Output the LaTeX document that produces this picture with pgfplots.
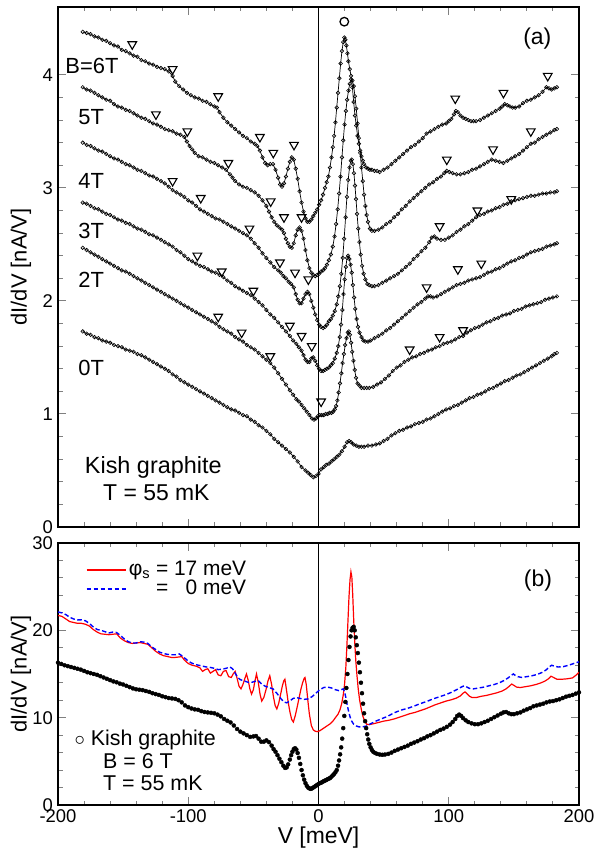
\documentclass[border=0pt]{standalone}
\usepackage{fontspec}
\setmainfont{Liberation Sans}
\usepackage{pgfplots}
\pgfplotsset{compat=1.18}

\pgfplotsset{
  panel/.style={
    scale only axis, width=521bp,
    xmin=-200, xmax=200,
    xtick={-200,-100,0,100,200}, minor x tick num=4,
    tick align=inside, major tick length=8bp, minor tick length=4.5bp,
    axis line style={line width=1.3bp},
    every tick/.append style={line width=1bp},
    /pgf/number format/assume math mode=true,
    ticklabel style={font=\fontsize{18.5}{18.5}\selectfont},
    yticklabel style={inner sep=0pt, xshift=-5bp},
    xticklabel style={inner sep=0pt, yshift=-4bp},
    ylabel={dI/dV [nA/V]},
    every axis y label/.style={at={(axis description cs:-0.071,0.5)},rotate=90,anchor=center,
      font=\fontsize{22}{22}\selectfont},
  },
  dat/.style={black, line width=0.7bp, mark=o, mark size=1.8bp, mark options={line width=0.6bp}},
  tri/.style={only marks, mark=triangle, mark size=5bp, mark options={rotate=180, line width=1.1bp, black}},
  zero/.style={black, line width=0.7bp, forget plot},
  calc17/.style={draw=red, line width=1.2bp},
  calc0/.style={draw=blue, line width=1.4bp, dash pattern=on 4.5bp off 2.5bp},
}

\begin{document}
\begin{tikzpicture}

% ---------- (a) ----------
\begin{axis}[panel, at={(0,278bp)}, anchor=south west,
    height=520bp, ymin=0, ymax=4.6,
    ytick={0,1,2,3,4}, minor y tick num=4,
    xticklabels={}]
\addplot[zero] coordinates {(0,0) (0,4.6)};

% B = 6 T
\addplot[dat] coordinates {
(-181,4.38) (-178,4.37) (-175,4.36) (-172,4.34) (-169,4.33) (-166,4.31) (-163,4.30) (-160,4.28) (-157,4.26) (-154,4.25)
(-151,4.22) (-148,4.21) (-145,4.19) (-142,4.17) (-139,4.16) (-136,4.13) (-133,4.12) (-130,4.10) (-127,4.09) (-124,4.07)
(-121,4.06) (-118,4.05) (-115,4.03) (-112,3.99) (-110,3.94) (-107,3.90) (-104,3.87) (-101,3.84) (-98,3.82) (-95,3.80)
(-92,3.79) (-89,3.77) (-86,3.76) (-83,3.74) (-80,3.72) (-78,3.71) (-76,3.67) (-73,3.62) (-70,3.58) (-67,3.55)
(-64,3.52) (-61,3.49) (-58,3.46) (-55,3.44) (-52,3.41) (-49,3.39) (-47,3.37) (-45,3.33) (-43,3.27) (-41,3.22)
(-39,3.20) (-37,3.21) (-35,3.21) (-33,3.16) (-31,3.09) (-29.5,3.03) (-28,3.01) (-26.5,3.04) (-25,3.10) (-23.5,3.17)
(-22,3.23) (-20.5,3.27) (-19,3.25) (-17.5,3.17) (-16,3.08) (-14.5,2.97) (-13,2.87) (-11.5,2.79) (-10,2.73) (-8.5,2.70)
(-7,2.70) (-5.5,2.72) (-4,2.75) (-2.5,2.78) (-1,2.81) (0.5,2.85) (2,2.89) (3.5,2.94) (5,3.00) (6.3,3.05)
(7.6,3.10) (8.8,3.18) (10,3.27) (11,3.36) (12,3.46) (13,3.58) (14,3.71) (15,3.84) (16,3.97) (17,4.10)
(18,4.21) (19,4.29) (19.8,4.33) (20.6,4.31) (21.4,4.26) (22.2,4.19) (23,4.12) (24,4.05) (25,3.99) (26,3.89)
(27,3.76) (28,3.64) (29,3.55) (30,3.46) (31,3.39) (32,3.33) (33,3.28) (34,3.24) (35,3.21) (36.5,3.18)
(38,3.17) (39.5,3.16) (41,3.16) (43,3.15) (45,3.15) (47,3.14) (50,3.16) (53,3.18) (56,3.21) (59,3.24)
(62,3.27) (65,3.30) (68,3.33) (71,3.36) (74,3.38) (77,3.41) (80,3.44) (83,3.48) (86,3.50) (89,3.52)
(92,3.54) (95,3.56) (98,3.57) (100,3.59) (102,3.61) (104,3.65) (105.5,3.68) (107,3.67) (109,3.64) (111,3.62)
(113,3.61) (115,3.60) (117,3.59) (119,3.59) (121,3.59) (124,3.60) (127,3.62) (130,3.64) (133,3.66) (136,3.68)
(139,3.70) (141,3.72) (143,3.74) (145,3.73) (147,3.72) (149,3.71) (151,3.71) (154,3.72) (157,3.75) (160,3.77)
(163,3.78) (166,3.80) (169,3.82) (172,3.85) (175,3.89) (177,3.88) (179,3.87) (181,3.88) (183,3.89)
};
% 5 T
\addplot[dat] coordinates {
(-181,3.89) (-178,3.87) (-175,3.86) (-172,3.84) (-169,3.82) (-166,3.80) (-163,3.78) (-160,3.77) (-157,3.74) (-154,3.72)
(-151,3.71) (-148,3.69) (-145,3.68) (-142,3.66) (-139,3.64) (-136,3.62) (-133,3.61) (-130,3.59) (-127,3.57) (-124,3.56)
(-121,3.54) (-118,3.52) (-115,3.51) (-112,3.50) (-109,3.48) (-106,3.47) (-103,3.45) (-101,3.41) (-99,3.37) (-97,3.34)
(-95,3.31) (-92,3.28) (-89,3.27) (-86,3.25) (-83,3.23) (-80,3.22) (-77,3.20) (-74,3.18) (-71,3.16) (-68,3.12)
(-66,3.09) (-64,3.06) (-61,3.03) (-58,3.01) (-55,3.00) (-52,2.98) (-49,2.96) (-46,2.93) (-43,2.89) (-40,2.84)
(-38,2.79) (-36,2.74) (-34,2.70) (-32,2.67) (-30,2.65) (-28,2.63) (-26.5,2.60) (-25,2.55) (-23.5,2.51) (-22,2.48)
(-20.5,2.47) (-19,2.51) (-17.5,2.58) (-16,2.63) (-14.5,2.65) (-13,2.62) (-11.5,2.55) (-10,2.45) (-8.5,2.36) (-7,2.29)
(-5.5,2.25) (-4,2.23) (-2.5,2.22) (-1,2.23) (0.5,2.24) (2,2.26) (3.5,2.27) (5,2.29) (6.5,2.32) (8,2.36)
(9.5,2.41) (11,2.48) (12.3,2.57) (13.5,2.68) (14.7,2.81) (15.8,2.95) (16.9,3.10) (18,3.27) (19,3.42) (20,3.56)
(21,3.68) (22,3.78) (23,3.86) (24,3.92) (25,3.96) (26,3.95) (27,3.90) (28,3.81) (29,3.70) (30,3.57)
(31,3.44) (32,3.31) (33,3.18) (34,3.06) (35,2.94) (36,2.84) (37,2.76) (38,2.70) (39.5,2.64) (41,2.62)
(43,2.62) (46,2.63) (49,2.65) (52,2.68) (55,2.70) (58,2.74) (61,2.77) (64,2.81) (67,2.84) (70,2.88)
(73,2.91) (76,2.94) (79,2.97) (82,3.00) (85,3.03) (88,3.05) (91,3.08) (94,3.10) (96.5,3.13) (98.5,3.15)
(100.5,3.14) (103,3.13) (106,3.12) (109,3.12) (112,3.13) (115,3.14) (118,3.16) (121,3.17) (124,3.19) (127,3.21)
(130,3.23) (133,3.25) (136,3.24) (139,3.23) (142,3.22) (145,3.24) (148,3.26) (151,3.28) (154,3.30) (157,3.33)
(160,3.36) (163,3.39) (166,3.40) (169,3.43) (172,3.45) (175,3.47) (178,3.49) (181,3.51) (183,3.52)
};
% 4 T
\addplot[dat] coordinates {
(-181,3.40) (-178,3.38) (-175,3.37) (-172,3.35) (-169,3.33) (-166,3.32) (-163,3.30) (-160,3.28) (-157,3.26) (-154,3.25)
(-151,3.23) (-148,3.21) (-145,3.20) (-142,3.18) (-139,3.16) (-136,3.15) (-133,3.13) (-130,3.11) (-127,3.10) (-124,3.08)
(-121,3.06) (-118,3.04) (-115,3.01) (-112,2.98) (-109,2.96) (-106,2.94) (-103,2.92) (-100,2.89) (-97,2.87) (-94,2.84)
(-91,2.81) (-88,2.79) (-85,2.77) (-82,2.75) (-79,2.73) (-76,2.72) (-73,2.70) (-70,2.68) (-67,2.66) (-64,2.64)
(-61,2.62) (-58,2.60) (-55,2.58) (-52,2.55) (-49,2.51) (-46,2.47) (-43,2.42) (-40,2.38) (-37,2.34) (-34,2.30)
(-31,2.27) (-29,2.25) (-27,2.22) (-25,2.20) (-23,2.17) (-21,2.15) (-19,2.12) (-17.5,2.06) (-16,2.01) (-14.5,1.98)
(-13,1.98) (-11.5,2.02) (-10,2.06) (-8.5,2.08) (-7,2.06) (-5.5,2.00) (-4,1.94) (-2.5,1.88) (-1,1.83) (0.5,1.79)
(2,1.77) (3.5,1.76) (5,1.77) (6.5,1.79) (8,1.82) (9.5,1.84) (11,1.87) (12.5,1.91) (14,1.97) (15.2,2.04)
(16.4,2.13) (17.5,2.24) (18.6,2.38) (19.7,2.55) (20.8,2.74) (21.8,2.92) (22.8,3.07) (23.8,3.18) (24.8,3.24) (25.6,3.25)
(26.4,3.21) (27.2,3.13) (28,3.02) (28.8,2.90) (29.6,2.77) (30.5,2.64) (31.4,2.52) (32.4,2.41) (33.5,2.31) (34.7,2.24)
(36,2.19) (37.5,2.15) (39,2.14) (41,2.13) (43,2.13) (46,2.14) (49,2.16) (52,2.18) (55,2.20) (58,2.22)
(61,2.24) (64,2.27) (67,2.30) (70,2.33) (73,2.37) (76,2.40) (79,2.44) (82,2.47) (85,2.52) (87,2.56)
(89,2.57) (91,2.55) (94,2.54) (97,2.54) (100,2.56) (103,2.58) (106,2.61) (109,2.63) (112,2.66) (115,2.68)
(118,2.71) (121,2.74) (124,2.76) (127,2.77) (130,2.79) (133,2.80) (136,2.82) (139,2.83) (142,2.85) (145,2.86)
(148,2.88) (151,2.89) (154,2.90) (157,2.91) (160,2.92) (163,2.93) (166,2.93) (169,2.94) (172,2.95) (175,2.95)
(178,2.96) (181,2.96) (183,2.97)
};
% 3 T
\addplot[dat] coordinates {
(-181,2.87) (-178,2.86) (-175,2.84) (-172,2.82) (-169,2.81) (-166,2.79) (-163,2.77) (-160,2.76) (-157,2.74) (-154,2.72)
(-151,2.71) (-148,2.69) (-145,2.68) (-142,2.66) (-139,2.64) (-136,2.63) (-133,2.61) (-130,2.59) (-127,2.58) (-124,2.56)
(-121,2.54) (-118,2.52) (-115,2.50) (-112,2.48) (-109,2.45) (-106,2.43) (-103,2.40) (-100,2.37) (-97,2.35) (-94,2.33)
(-91,2.31) (-88,2.30) (-85,2.28) (-82,2.26) (-79,2.25) (-76,2.23) (-73,2.21) (-70,2.18) (-67,2.16) (-64,2.13)
(-61,2.11) (-58,2.09) (-55,2.07) (-52,2.05) (-49,2.02) (-46,1.99) (-43,1.96) (-40,1.92) (-37,1.88) (-34,1.85)
(-31,1.81) (-28,1.77) (-25,1.73) (-22,1.69) (-19.5,1.65) (-17,1.62) (-15,1.59) (-13,1.56) (-11.5,1.52) (-10,1.48)
(-8.5,1.46) (-7,1.46) (-5.5,1.49) (-4,1.50) (-2.5,1.47) (-1,1.43) (0.5,1.40) (2,1.38) (3.5,1.38) (5,1.39)
(6.5,1.40) (8,1.41) (9.5,1.43) (11,1.45) (12.5,1.49) (14,1.54) (15.2,1.60) (16.3,1.68) (17.3,1.79) (18.3,1.92)
(19.2,2.06) (20.1,2.19) (21,2.30) (21.9,2.38) (22.8,2.40) (23.7,2.37) (24.6,2.32) (25.5,2.25) (26.4,2.14) (27.3,2.03)
(28.2,1.93) (29.2,1.84) (30.3,1.77) (31.5,1.72) (33,1.68) (34.5,1.65) (36,1.64) (38,1.64) (40,1.65) (43,1.67)
(46,1.69) (49,1.71) (52,1.74) (55,1.76) (58,1.79) (61,1.82) (64,1.85) (67,1.88) (70,1.91) (73,1.94)
(76,1.97) (79,1.99) (82,2.02) (84,2.04) (86,2.04) (88,2.03) (91,2.04) (94,2.06) (97,2.08) (100,2.10)
(103,2.12) (106,2.14) (109,2.15) (112,2.16) (115,2.18) (118,2.19) (121,2.20) (124,2.21) (127,2.23) (130,2.25)
(133,2.26) (136,2.28) (139,2.29) (142,2.31) (145,2.33) (148,2.35) (151,2.36) (154,2.38) (157,2.39) (160,2.41)
(163,2.43) (166,2.44) (169,2.45) (172,2.46) (175,2.48) (178,2.49) (181,2.50) (183,2.51)
};
% 2 T
\addplot[dat] coordinates {
(-181,2.47) (-178,2.45) (-175,2.43) (-172,2.41) (-169,2.39) (-166,2.37) (-163,2.35) (-160,2.33) (-157,2.31) (-154,2.29)
(-151,2.27) (-148,2.26) (-145,2.24) (-142,2.22) (-139,2.20) (-136,2.18) (-133,2.16) (-130,2.14) (-127,2.12) (-124,2.10)
(-121,2.08) (-118,2.06) (-115,2.04) (-112,2.02) (-109,2.00) (-106,1.98) (-103,1.96) (-100,1.94) (-97,1.92) (-94,1.90)
(-91,1.88) (-88,1.86) (-85,1.84) (-82,1.82) (-79,1.80) (-76,1.77) (-73,1.75) (-70,1.73) (-67,1.71) (-64,1.68)
(-61,1.66) (-58,1.64) (-55,1.61) (-52,1.59) (-49,1.57) (-46,1.54) (-43,1.51) (-40,1.48) (-37,1.45) (-34,1.41)
(-31,1.36) (-28,1.31) (-25,1.26) (-22,1.21) (-19.5,1.17) (-17,1.13) (-15,1.11) (-13,1.08) (-11,1.05) (-9,1.02)
(-7,0.99) (-5,0.96) (-3.5,0.95) (-2,0.96) (-0.5,0.98) (1,0.99) (2.5,0.99) (4,0.99) (5.5,1.00) (7,1.00)
(8.5,1.01) (10,1.01) (11.3,1.02) (12.5,1.04) (13.5,1.07) (14.5,1.12) (15.5,1.19) (16.5,1.27) (17.5,1.36) (18.5,1.45)
(19.5,1.53) (20.5,1.61) (21.5,1.67) (22.5,1.72) (23.3,1.73) (24.1,1.70) (25,1.63) (25.9,1.55) (26.8,1.47) (27.8,1.39)
(28.8,1.32) (30,1.27) (31.5,1.25) (33,1.23) (35,1.23) (37,1.23) (39,1.23) (42,1.24) (45,1.26) (48,1.28)
(51,1.31) (54,1.34) (57,1.38) (60,1.41) (63,1.43) (66,1.46) (69,1.48) (72,1.50) (75,1.51) (78,1.53)
(81,1.54) (84,1.56) (87,1.57) (90,1.59) (93,1.60) (96,1.62) (99,1.63) (102,1.64) (105,1.66) (108,1.68)
(111,1.69) (114,1.72) (117,1.74) (120,1.76) (123,1.77) (126,1.79) (129,1.81) (132,1.82) (135,1.84) (138,1.85)
(141,1.87) (144,1.88) (147,1.89) (150,1.91) (153,1.92) (156,1.93) (159,1.95) (162,1.96) (165,1.97) (168,1.98)
(171,1.99) (174,2.01) (177,2.02) (180,2.03) (183,2.04)
};
% 0 T
\addplot[dat] coordinates {
(-181,1.73) (-178,1.71) (-175,1.70) (-172,1.68) (-169,1.67) (-166,1.65) (-163,1.64) (-160,1.63) (-157,1.61) (-154,1.60)
(-151,1.59) (-148,1.57) (-145,1.56) (-142,1.55) (-139,1.53) (-136,1.52) (-133,1.50) (-130,1.48) (-127,1.46) (-124,1.44)
(-121,1.42) (-118,1.40) (-115,1.38) (-112,1.35) (-109,1.33) (-106,1.30) (-103,1.28) (-100,1.26) (-97,1.24) (-94,1.22)
(-91,1.20) (-88,1.18) (-85,1.16) (-82,1.14) (-79,1.12) (-76,1.10) (-73,1.08) (-70,1.06) (-67,1.04) (-64,1.03)
(-61,1.01) (-58,0.99) (-55,0.98) (-52,0.95) (-49,0.93) (-46,0.90) (-43,0.88) (-40,0.85) (-37,0.82) (-34,0.78)
(-31,0.75) (-28,0.72) (-25,0.69) (-22,0.66) (-19,0.62) (-16,0.58) (-13,0.53) (-10,0.50) (-8,0.48) (-6,0.46)
(-4,0.44) (-2,0.45) (0,0.47) (2,0.51) (4,0.53) (6,0.55) (8,0.56) (10,0.58) (12,0.60) (14,0.62)
(16,0.64) (18,0.67) (20,0.71) (22,0.75) (23.5,0.76) (25,0.75) (27,0.73) (29,0.72) (31,0.71) (33,0.71)
(35,0.71) (38,0.72) (41,0.72) (44,0.73) (47,0.74) (50,0.76) (53,0.78) (56,0.81) (59,0.83) (62,0.85)
(65,0.86) (68,0.88) (71,0.89) (74,0.91) (77,0.92) (80,0.93) (83,0.95) (86,0.96) (89,0.98) (92,1.00)
(95,1.02) (98,1.04) (101,1.05) (104,1.07) (107,1.08) (110,1.10) (113,1.12) (116,1.14) (119,1.15) (122,1.17)
(125,1.18) (128,1.20) (131,1.22) (134,1.23) (137,1.25) (140,1.27) (143,1.29) (146,1.30) (149,1.32) (152,1.34)
(155,1.35) (158,1.37) (161,1.39) (164,1.41) (167,1.43) (170,1.45) (173,1.47) (176,1.49) (179,1.51) (181,1.53)
(183,1.54)
};

% structure markers
\addplot[tri] coordinates {
(-143,4.27) (-112,4.05) (-77,3.81) (-45,3.45) (-34.7,3.31) (-18.8,3.38) (105,3.79) (142,3.84) (176,3.99)
(-124.8,3.65) (-100.7,3.50) (-69.2,3.22) (-36.7,2.88) (-26.5,2.74) (-13,2.74) (98.5,3.25) (134,3.34) (163,3.50)
(-112,3.06) (-90.4,2.91) (-53,2.64) (-29.6,2.34) (-18,2.25) (-7.8,2.19) (93,2.66) (122,2.80) (148,2.90)
(-93,2.40) (-74.3,2.26) (-50,2.09) (-22,1.78) (-13,1.69) (-5.2,1.60) (83,2.12) (107,2.28) (125,2.33)
(-77,1.86) (-59,1.72) (-37,1.51) (2,1.11) (70,1.57) (93,1.68) (111,1.74)
};
\addplot[only marks, mark=o, mark size=4.3bp, mark options={line width=1.3bp}] coordinates {(19.8,4.47)};

\node[anchor=west, font=\fontsize{22}{22}\selectfont] at (axis cs:-197,4.08) {B=6T};
\node[anchor=west, font=\fontsize{22}{22}\selectfont] at (axis cs:-187,3.63) {5T};
\node[anchor=west, font=\fontsize{22}{22}\selectfont] at (axis cs:-187,3.06) {4T};
\node[anchor=west, font=\fontsize{22}{22}\selectfont] at (axis cs:-187,2.62) {3T};
\node[anchor=west, font=\fontsize{22}{22}\selectfont] at (axis cs:-187,2.19) {2T};
\node[anchor=west, font=\fontsize{22}{22}\selectfont] at (axis cs:-187,1.41) {0T};
\node[anchor=west, font=\fontsize{23.5}{23.5}\selectfont] at (axis cs:-182,0.53) {Kish graphite};
\node[anchor=west, font=\fontsize{23}{23}\selectfont] at (axis cs:-168,0.30) {T = 55 mK};
\node[font=\fontsize{23}{23}\selectfont] at (axis cs:168,4.32) {(a)};
\end{axis}

% ---------- (b) ----------
\begin{axis}[panel, at={(0,0)}, anchor=south west,
    height=262bp, ymin=0, ymax=30,
    ytick={0,10,20,30}, minor y tick num=4,
    xlabel={V [meV]},
    xlabel style={at={(axis description cs:0.5,-0.126)}, anchor=center, font=\fontsize{23}{23}\selectfont}]
\addplot[zero] coordinates {(0,0) (0,30)};

% calculated, phi_s = 17 meV
\addplot[calc17] coordinates {
(-200,21.7) (-197,21.6) (-194,21.3) (-191,21.0) (-188,20.9) (-185,20.8) (-182,20.8) (-179,20.7) (-176,20.5) (-173,20.1)
(-170,19.8) (-167,19.6) (-164,19.55) (-161,19.5) (-158,19.55) (-155,19.6) (-152,19.1) (-149,18.8) (-146,18.6) (-143,18.5)
(-140,18.55) (-137,18.6) (-134,18.5) (-131,18.4) (-128,18.0) (-125,17.6) (-122,17.3) (-119,17.1) (-116,17.0) (-113,16.9)
(-110,16.9) (-107,16.95) (-105,17.0) (-103,16.6) (-100,16.2) (-97,16.0) (-94,15.9) (-91,15.7) (-89,15.3) (-87,15.5)
(-85,15.6) (-83,15.1) (-81,15.3) (-79,15.5) (-77,14.9) (-75,14.8) (-73,15.3) (-71,15.4) (-69,14.7) (-67,14.6)
(-65.5,15.0) (-64,15.3) (-62.5,14.5) (-61,13.6) (-59.5,13.3) (-58,13.8) (-56.5,14.5) (-55.3,15.0) (-54,14.3) (-52.7,13.3)
(-51.4,12.7) (-50,13.2) (-48.8,14.2) (-47.6,15.0) (-46.2,14.0) (-44.9,12.7) (-43.6,11.9) (-42,12.3) (-40.3,13.2) (-38.8,14.2)
(-37.4,14.8) (-36,13.8) (-34.6,12.4) (-33.3,11.4) (-32,11.0) (-30.6,11.6) (-29.2,12.6) (-27.8,13.6) (-26.7,14.2) (-25.8,14.4)
(-24.6,13.2) (-23.3,11.8) (-22,10.7) (-20.6,9.8) (-19.3,9.5) (-17.9,10.2) (-16.4,11.2) (-15,12.2) (-13.6,13.2) (-12.2,14.0)
(-11,14.5) (-10.4,14.6) (-9.4,13.8) (-8.2,12.0) (-7,10.4) (-5.5,9.1) (-4,8.6) (-2.5,8.45) (-1,8.4) (1,8.5)
(3,8.7) (5,8.9) (7,9.1) (9,9.3) (11,9.6) (13,10.0) (15,10.4) (16.5,10.9) (17.8,11.6) (19,12.6)
(20,13.8) (21,15.8) (21.8,18.2) (22.6,21.0) (23.4,23.8) (24.2,25.8) (24.9,26.7) (25.6,26.1) (26.3,24.0) (27,21.3)
(27.8,18.7) (28.6,16.6) (29.5,14.9) (30.5,13.3) (31.6,12.0) (32.8,11.0) (34,10.2) (35.5,9.6) (37,9.25) (39,9.2)
(42,9.3) (46,9.45) (50,9.6) (54,9.7) (58,9.85) (62,10.05) (66,10.25) (70,10.45) (74,10.6) (78,10.8)
(82,11.0) (86,11.25) (90,11.5) (94,11.7) (98,11.9) (102,12.05) (106,12.25) (109,12.5) (111,12.8) (112.5,12.95)
(114,12.75) (116,12.45) (118,12.3) (121,12.3) (125,12.45) (129,12.55) (133,12.7) (137,12.85) (141,13.05) (144,13.3)
(146.5,13.6) (148.3,13.85) (150,13.7) (152,13.5) (155,13.45) (159,13.55) (163,13.65) (167,13.8) (171,14.0) (174,14.2)
(176.5,14.45) (178.5,14.75) (180.5,14.6) (183,14.4) (187,14.4) (191,14.45) (195,14.55) (198,14.9) (200,15.2)
};

% calculated, phi_s = 0
\addplot[calc0] coordinates {
(-200,22.1) (-197,22.0) (-194,21.8) (-191,21.5) (-188,21.3) (-185,21.2) (-182,21.2) (-179,21.1) (-176,20.8) (-173,20.4)
(-170,20.1) (-167,20.0) (-164,19.85) (-161,19.7) (-158,19.8) (-155,19.75) (-152,19.4) (-149,19.0) (-146,18.7) (-143,18.55)
(-140,18.55) (-137,18.7) (-134,18.65) (-131,18.5) (-128,18.1) (-125,17.8) (-122,17.5) (-119,17.35) (-116,17.25) (-113,17.2)
(-110,17.2) (-107,17.3) (-104,17.0) (-101,16.6) (-98,16.3) (-95,16.1) (-92,16.0) (-89,15.9) (-86,15.8) (-83,15.75)
(-80,15.65) (-77,15.5) (-74,15.55) (-71,15.65) (-68,15.8) (-66,15.6) (-64,15.1) (-62,14.6) (-60,14.35) (-57,14.2)
(-54,14.05) (-51,14.05) (-48,14.2) (-46,14.2) (-44,13.9) (-41,13.6) (-38,13.45) (-35,13.3) (-32,12.8) (-29,12.2)
(-26.5,11.8) (-24.4,11.7) (-22,11.9) (-19.5,12.2) (-17,12.3) (-14,12.2) (-11,12.1) (-8,12.15) (-5,12.4) (-2,12.8)
(1,13.2) (4,13.45) (7,13.5) (10,13.4) (13,13.2) (15.5,13.1) (17.5,13.2) (19,13.3) (20,13.0) (21,12.3)
(22,11.5) (23,10.8) (24.2,10.1) (25.5,9.6) (27,9.25) (29,9.05) (31,8.95) (34,8.95) (37,9.05) (40,9.3)
(44,9.6) (48,9.85) (53,10.15) (58,10.55) (63,10.85) (68,11.05) (73,11.3) (78,11.6) (83,11.85) (88,12.15)
(93,12.4) (98,12.65) (102,12.9) (106,13.2) (109,13.45) (111,13.6) (112.5,13.65) (114,13.5) (116,13.35) (119,13.3)
(123,13.4) (127,13.5) (131,13.65) (135,13.8) (139,14.0) (143,14.3) (146,14.6) (148,14.85) (149.6,15.0) (151,14.85)
(153,14.7) (156,14.6) (160,14.7) (164,14.8) (168,14.95) (172,15.2) (175,15.5) (177,15.8) (179,16.0) (181,15.9)
(184,15.8) (188,15.85) (192,16.0) (196,16.2) (200,16.4)
};

% measured, B = 6 T
\addplot[only marks, mark=*, mark size=2bp, black] coordinates {
(-200,16.3) (-197.5,16.15) (-195,16.0) (-192.5,15.9) (-190,15.8) (-187.5,15.7) (-185,15.6) (-182.5,15.5) (-180,15.35) (-177.5,15.2)
(-175,15.1) (-172.5,15.0) (-170,14.9) (-167.5,14.75) (-165,14.6) (-162.5,14.45) (-160,14.3) (-157.5,14.15) (-155,14.05) (-152.5,13.9)
(-150,13.8) (-147.5,13.65) (-145,13.5) (-142.5,13.35) (-140,13.25) (-137.5,13.2) (-135,13.15) (-132.5,13.05) (-130,12.95) (-127.5,12.8)
(-125,12.7) (-122.5,12.6) (-120,12.45) (-117.5,12.35) (-115,12.25) (-112.5,12.2) (-110,12.15) (-107.5,12.0) (-105,11.75) (-102.5,11.4)
(-100,11.2) (-97.5,11.05) (-95,10.95) (-92.5,10.9) (-90,10.75) (-87.5,10.65) (-85,10.6) (-82.5,10.55) (-80,10.5) (-77.5,10.35)
(-75,10.15) (-72.5,9.85) (-70,9.65) (-67.5,9.45) (-65,9.1) (-62.5,8.7) (-60,8.4) (-57.5,8.2) (-55,8.0) (-52.5,7.8)
(-50,7.85) (-48,7.9) (-46,7.6) (-44,7.25) (-42,7.25) (-40,7.4) (-38,7.2) (-36,6.8) (-34.5,6.4) (-33,6.1)
(-31.5,5.7) (-30,5.3) (-28.5,4.9) (-27,4.5) (-25.7,4.25) (-24.5,4.3) (-23.3,4.65) (-22,5.2) (-21,5.7) (-20,6.1)
(-19,6.4) (-18,6.5) (-17,6.35) (-16,5.95) (-15,5.4) (-14,4.7) (-13,4.0) (-12,3.4) (-11,2.9) (-10,2.5)
(-9,2.2) (-8,2.0) (-7,1.9) (-6,1.85) (-5,1.9) (-4,2.0) (-3,2.1) (-2,2.2) (-1,2.3) (0,2.4)
(1,2.5) (2,2.55) (3,2.65) (4,2.72) (5,2.8) (6,2.87) (7,2.95) (8,3.02) (9,3.1) (10,3.25)
(11,3.4) (12,3.55) (13,3.75) (14,4.0) (15,4.5) (15.8,5.1) (16.6,5.8) (17.4,6.6) (18.2,7.6) (19,8.8)
(19.8,10.2) (20.6,11.8) (21.4,13.4) (22.2,15.0) (23,16.6) (23.8,18.1) (24.6,19.3) (25.4,20.0) (26.2,20.3) (27,20.4)
(27.8,20.0) (28.6,19.2) (29.4,18.3) (30.2,17.4) (31,16.3) (31.8,15.2) (32.6,14.0) (33.4,12.8) (34.2,11.6) (35,10.5)
(35.8,9.6) (36.6,8.8) (37.4,8.1) (38.2,7.5) (39,7.0) (40,6.6) (41,6.3) (42,6.1) (43.5,5.95) (45,5.85)
(47,5.78) (49,5.75) (51,5.78) (53.5,5.85) (56,6.0) (58.5,6.2) (61,6.35) (63.5,6.5) (66,6.65) (68.5,6.8)
(71,7.0) (73.5,7.15) (76,7.3) (78.5,7.5) (81,7.65) (83.5,7.85) (86,8.0) (88.5,8.2) (91,8.4) (93.5,8.6)
(96,8.75) (98.5,8.95) (101,9.2) (103,9.5) (105,9.85) (106.5,10.2) (108,10.35) (109.5,10.2) (111,9.95) (113,9.7)
(115,9.5) (117.5,9.35) (120,9.25) (122.5,9.25) (125,9.35) (127.5,9.5) (130,9.65) (132.5,9.85) (135,10.05) (137.5,10.25)
(140,10.45) (142,10.6) (144,10.65) (146,10.5) (148,10.4) (150,10.4) (152.5,10.5) (155,10.6) (157.5,10.8) (160,10.95)
(162.5,11.1) (165,11.3) (167.5,11.4) (170,11.5) (172.5,11.6) (175,11.75) (177.5,11.85) (180,11.9) (182.5,12.0) (185,12.1)
(187.5,12.25) (190,12.4) (192.5,12.5) (195,12.6) (197.5,12.75) (200,12.9)
};

% key
\addplot[calc17] coordinates {(-178,26.9) (-148,26.9)};
\addplot[calc0, line width=1.9bp] coordinates {(-178,24.7) (-163,24.7) (-148,24.7)};
\node[anchor=west, font=\fontsize{21}{21}\selectfont, inner sep=1bp] at (axis cs:-146.5,26.9) {φ\textsubscript{s} = 17 meV};
\node[anchor=west, font=\fontsize{21}{21}\selectfont, inner sep=1bp] at (axis cs:-146.5,24.7) {\phantom{φ\textsubscript{s}} = \phantom{1}0 meV};

\node[anchor=west, font=\fontsize{21.5}{21.5}\selectfont] at (axis cs:-190,7.5) {$\circ$ Kish graphite};
\node[anchor=west, font=\fontsize{21.5}{21.5}\selectfont] at (axis cs:-168,5.0) {B = 6 T};
\node[anchor=west, font=\fontsize{21.5}{21.5}\selectfont] at (axis cs:-168,2.5) {T = 55 mK};
\node[font=\fontsize{23}{23}\selectfont] at (axis cs:168.5,25.7) {(b)};
\end{axis}

\pgfresetboundingbox
\path (-58bp,805bp) rectangle (537bp,-49bp);
\end{tikzpicture}
\end{document}
